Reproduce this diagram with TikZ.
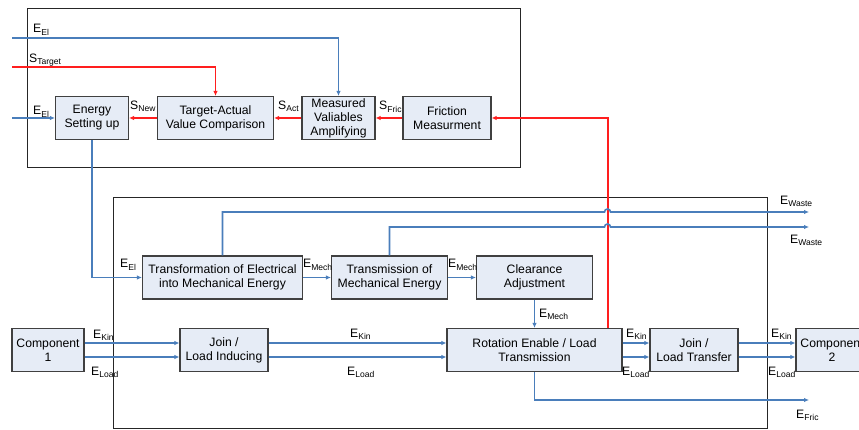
\documentclass[tikz,border=0pt]{standalone}
\usepackage{fontspec}
\setmainfont{Liberation Sans}
\usetikzlibrary{arrows.meta}
\definecolor{eblue}{RGB}{74,126,187}
\definecolor{sred}{RGB}{255,30,30}
\definecolor{boxfill}{RGB}{230,236,246}
\newcommand{\flow}[2]{#1\textsubscript{#2}}
\begin{document}
\begin{tikzpicture}[x=1pt, y=-1pt, font=\fontsize{12.2}{14}\selectfont,
	func/.style={draw=black!75, line width=1.2pt, fill=boxfill, align=center, minimum height=43pt, inner sep=1pt},
	lbl/.style={anchor=base west, inner sep=0pt},
	efl/.style={draw=eblue, line width=1.6pt, -{Latex[length=5pt,width=4.5pt]}},
	sfl/.style={draw=sred, line width=1.6pt, -{Latex[length=5pt,width=4.5pt]}},
	frame/.style={draw=black!85, line width=1pt}]
\path[use as bounding box] (0,0) rectangle (859,430);
\clip (0,0) rectangle (859,430);
%
\draw[frame] (27.5,9) rectangle (520.5,168);
\draw[frame] (113.5,198) rectangle (767.5,428);
%
\node[func, minimum width=73pt] (esu) at (92,118) {Energy\\Setting up};
\node[func, minimum width=116pt] (tac) at (215.5,118) {Target-Actual\\Value Comparison};
\node[func, minimum width=73pt] (mva) at (338.5,118) {Measured\\Valiables\\Amplifying};
\node[func, minimum width=88pt] (fme) at (447,118) {Friction\\Measurment};
\node[func, minimum width=160pt] (tme) at (222.5,277.5) {Transformation of Electrical\\into Mechanical Energy};
\node[func, minimum width=116pt] (tmm) at (389.5,277.5) {Transmission of\\Mechanical Energy};
\node[func, minimum width=116pt] (cla) at (534.5,277.5) {Clearance\\Adjustment};
\node[func, minimum width=72pt] (comp1) at (48,350) {Component\\1};
\node[func, minimum width=88pt] (jli) at (224,350) {Join /\\Load Inducing};
\node[func, minimum width=175pt] (rot) at (534.5,350) {Rotation Enable / Load\\Transmission};
\node[func, minimum width=88pt] (jlt) at (694,350) {Join /\\Load Transfer};
\node[func, minimum width=72pt] (comp2) at (832,350) {Component\\2};
%
\coordinate (elin1) at (12,38);
\coordinate (sin) at (12,67);
\coordinate (elin2) at (12,118);
\coordinate (waste1) at (809,212);
\coordinate (waste2) at (809,227);
\coordinate (fricout) at (809,400);
%
\draw[efl] (elin1) -| (mva.north);
\draw[sfl] (sin) -| (tac.north);
\draw[efl] (elin2) -- (esu.west);
\draw[sfl] (tac.west) -- (esu.east);
\draw[sfl] (mva.west) -- (tac.east);
\draw[sfl] (fme.west) -- (mva.east);
\draw[sfl] ([xshift=-14.5pt]rot.north east) |- (fme.east);
%
\draw[efl] (esu.south) |- (tme.west);
\draw[efl] (tme.east) -- (tmm.west);
\draw[efl] (tmm.east) -- (cla.west);
\draw[efl] (cla.south) -- (cla.south |- rot.north);
\draw[efl] (tme.north) |- (604.5,212) arc[start angle=180, end angle=360, radius=3] -- (waste1);
\draw[efl] (tmm.north) |- (604.5,227) arc[start angle=180, end angle=360, radius=3] -- (waste2);
\draw[efl] (rot.south) |- (fricout);
\foreach \a/\b in {comp1/jli, jli/rot, rot/jlt, jlt/comp2}{
	\draw[efl] ([yshift=7pt]\a.east) -- ([yshift=7pt]\b.west);
	\draw[efl] ([yshift=-7pt]\a.east) -- ([yshift=-7pt]\b.west);
}
%
\foreach \n/\x/\y/\m/\s in {l1/33/33/E/El, l2/29/63/S/Target, l3/33/115/E/El, l4/130/110/S/New, l5/278/110/S/Act, l6/379/110/S/Fric,
	l7/120/268/E/El, l8/303/268/E/Mech, l9/448/268/E/Mech, l10/539/317/E/Mech,
	l11/93/338/E/Kin, l12/91/375/E/Load, l13/350/337/E/Kin, l14/347/375/E/Load,
	l15/626/337/E/Kin, l16/622/375/E/Load, l17/771/337/E/Kin, l18/768/375/E/Load,
	l19/780/205/E/Waste, l20/790/244/E/Waste, l21/796/418/E/Fric}
	\node[lbl] (\n) at (\x,\y) {\flow{\m}{\s}};
\end{tikzpicture}
\end{document}
